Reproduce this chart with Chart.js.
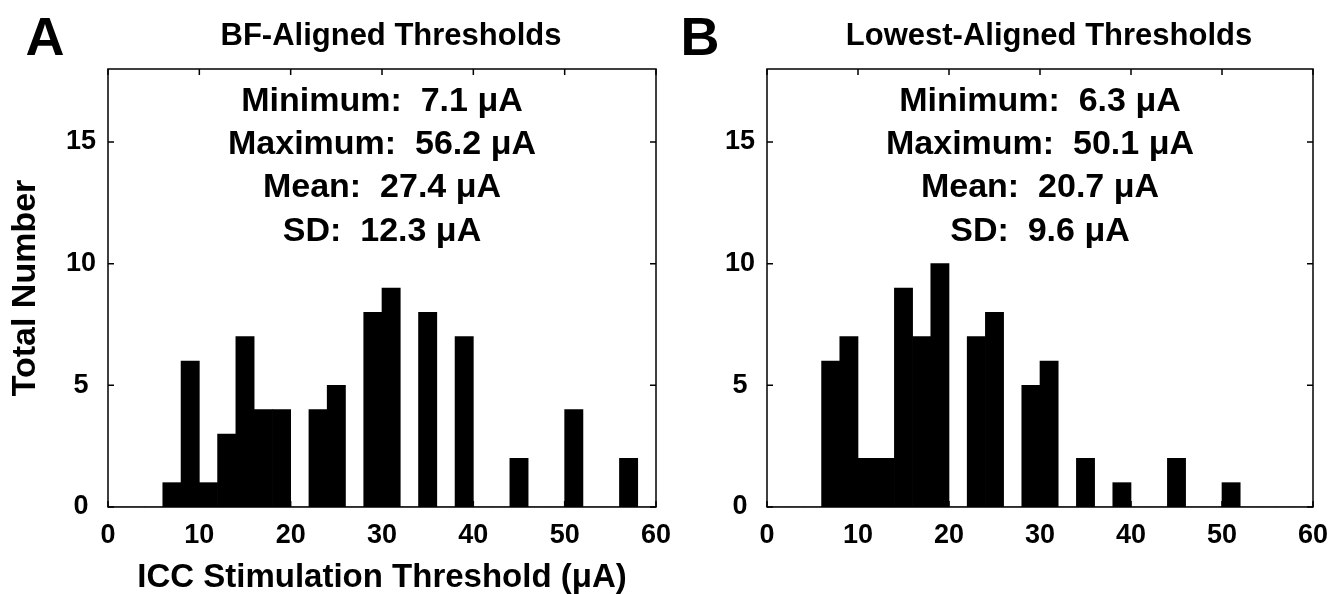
<!DOCTYPE html>
<html>
<head>
<meta charset="utf-8">
<title>ICC Stimulation Thresholds</title>
<script src="https://cdn.jsdelivr.net/npm/chart.js@4.4.1/dist/chart.umd.min.js"></script>
<style>
  html, body { margin: 0; padding: 0; background: #fff; }
  #wrap { position: relative; width: 1331px; height: 594px; overflow: hidden; }
  #wrap canvas { position: absolute; top: 0; }
  #chart-a { left: 0; }
  #chart-b { left: 665px; }
</style>
</head>
<body>
<div id="wrap">
  <canvas id="chart-a" width="690" height="594"></canvas>
  <canvas id="chart-b" width="666" height="594"></canvas>
</div>
<script>
// ─── Data (2 µA bins, 0–60 µA) ───────────────────────────
const binCenters = [1, 3, 5, 7, 9, 11, 13, 15, 17, 19, 21, 23, 25, 27, 29,
                    31, 33, 35, 37, 39, 41, 43, 45, 47, 49, 51, 53, 55, 57, 59];
const countsA    = [0, 0, 0, 1, 6, 1, 3, 7, 4, 4, 0, 4, 5, 0, 8,
                    9, 0, 8, 0, 7, 0, 0, 2, 0, 0, 4, 0, 0, 2, 0];
const countsB    = [0, 0, 0, 6, 7, 2, 2, 9, 7, 10, 0, 7, 8, 0, 5,
                    6, 0, 2, 0, 1, 0, 0, 2, 0, 0, 1, 0, 0, 0, 0];
const xTicks     = [0, 10, 20, 30, 40, 50, 60];
const yTicks     = [0, 5, 10, 15];
const statsA     = ['Minimum:  7.1 μA', 'Maximum:  56.2 μA', 'Mean:  27.4 μA', 'SD:  12.3 μA'];
const statsB     = ['Minimum:  6.3 μA', 'Maximum:  50.1 μA', 'Mean:  20.7 μA', 'SD:  9.6 μA'];

const FONT = "'Liberation Sans', Arial, Helvetica, sans-serif";

// ─── Box, inward ticks, titles, stats text ───────────────
const framePlugin = {
  id: 'frame',
  afterDraw(chart, args, opts) {
    const { ctx, chartArea: a, scales: { x, y } } = chart;
    ctx.save();
    ctx.strokeStyle = '#000';
    ctx.lineWidth = 1.5;
    ctx.strokeRect(a.left, a.top, a.right - a.left, a.bottom - a.top);

    ctx.beginPath();
    xTicks.forEach(v => {
      const px = x.getPixelForValue(v);
      ctx.moveTo(px, a.bottom); ctx.lineTo(px, a.bottom - 6);
      ctx.moveTo(px, a.top);    ctx.lineTo(px, a.top + 6);
    });
    yTicks.forEach(v => {
      const py = y.getPixelForValue(v);
      ctx.moveTo(a.left, py);  ctx.lineTo(a.left + 6, py);
      ctx.moveTo(a.right, py); ctx.lineTo(a.right - 6, py);
    });
    ctx.stroke();

    ctx.fillStyle = '#000';
    ctx.textBaseline = 'alphabetic';
    ctx.textAlign = 'center';

    // panel letter
    ctx.font = `bold 54px ${FONT}`;
    ctx.fillText(opts.letter, opts.letterX, 55);

    // panel title
    ctx.font = `bold 31px ${FONT}`;
    ctx.fillText(opts.title, (a.left + a.right) / 2 + 9, 45);

    // summary stats
    ctx.font = `bold 34px ${FONT}`;
    const cx = x.getPixelForValue(30);
    const y15 = y.getPixelForValue(15);
    opts.stats.forEach((t, i) => ctx.fillText(t, cx, y15 + 12 + (i - 1) * 43.4));
    ctx.restore();
  }
};

function makeChart(id, counts, opts) {
  return new Chart(document.getElementById(id), {
    type: 'bar',
    data: {
      datasets: [{
        data: binCenters.map((c, i) => ({ x: c, y: counts[i] })),
        backgroundColor: '#000',
        borderColor: '#000',
        borderWidth: 0,
        barPercentage: 1,
        categoryPercentage: 1
      }]
    },
    options: {
      responsive: false,
      animation: false,
      layout: { padding: { left: 0, top: 69, right: opts.padRight, bottom: 0 } },
      plugins: {
        legend: { display: false },
        tooltip: { enabled: false },
        frame: { letter: opts.letter, letterX: opts.letterX, title: opts.title, stats: opts.stats }
      },
      scales: {
        x: {
          type: 'linear', min: 0, max: 60, offset: false,
          grid: { display: false, drawTicks: false, offset: false },
          border: { display: false },
          afterBuildTicks: s => { s.ticks = xTicks.map(v => ({ value: v })); },
          afterFit: s => { s.height = 87; s.paddingLeft = 0; s.paddingRight = 0; },
          ticks: { color: '#000', padding: 12, maxRotation: 0, autoSkip: false,
                   font: { family: FONT, size: 27, weight: 'bold' } },
          title: { display: !!opts.xTitle, text: opts.xTitle, color: '#000',
                   padding: { top: 0, bottom: 0 },
                   font: { family: FONT, size: 33, weight: 'bold', lineHeight: 1 } }
        },
        y: {
          min: 0, max: 18,
          grid: { display: false, drawTicks: false },
          border: { display: false },
          afterBuildTicks: s => { s.ticks = yTicks.map(v => ({ value: v })); },
          afterFit: s => { s.width = opts.yWidth; s.paddingTop = 0; s.paddingBottom = 0; },
          ticks: { color: '#000', padding: 12, crossAlign: 'center',
                   font: { family: FONT, size: 27, weight: 'bold' } },
          title: { display: !!opts.yTitle, text: opts.yTitle, color: '#000',
                   padding: { top: 9, bottom: 0 },
                   font: { family: FONT, size: 34, weight: 'bold', lineHeight: 1 } }
        }
      }
    },
    plugins: [framePlugin]
  });
}

makeChart('chart-a', countsA, {
  letter: 'A', letterX: 45, title: 'BF-Aligned Thresholds', stats: statsA,
  xTitle: 'ICC Stimulation Threshold (μA)', yTitle: 'Total Number',
  padRight: 34, yWidth: 108
});
makeChart('chart-b', countsB, {
  letter: 'B', letterX: 35, title: 'Lowest-Aligned Thresholds', stats: statsB,
  xTitle: '', yTitle: '',
  padRight: 18, yWidth: 102
});
</script>
</body>
</html>
